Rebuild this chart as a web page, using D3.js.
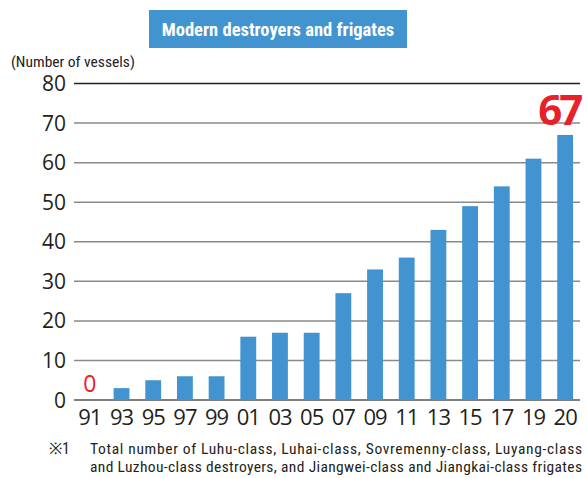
<!DOCTYPE html>
<html>
<head>
<meta charset="utf-8">
<script src="https://cdn.jsdelivr.net/npm/d3@7"></script>
<style>
  body { margin: 0; background: #fff; }
  svg { display: block; }
</style>
</head>
<body>
<div id="chart"></div>
<script>
// data
var years = ["91","93","95","97","99","01","03","05","07","09","11","13","15","17","19","20"];
var vessels = [0, 3, 5, 6, 6, 16, 17, 17, 27, 33, 36, 43, 49, 54, 61, 67];
var yTicks = [0, 10, 20, 30, 40, 50, 60, 70, 80];
var noteLines = [
  "Total number of Luhu-class, Luhai-class, Sovremenny-class, Luyang-class",
  "and Luzhou-class destroyers, and Jiangwei-class and Jiangkai-class frigates"
];

var width = 587, height = 478;
var blue = "#4194d0", red = "#e8202a";
var narrow = "'Liberation Sans Narrow', 'Roboto Condensed', 'Liberation Sans', sans-serif";
var light = "'Open Sans', 'Noto Sans', sans-serif";

var svg = d3.select("#chart")
  .append("svg")
    .attr("width", width)
    .attr("height", height);

// title box
svg.append("rect")
  .attr("x", 149).attr("y", 10)
  .attr("width", 258).attr("height", 38)
  .style("fill", blue);
svg.append("text")
  .attr("x", 278).attr("y", 36)
  .attr("text-anchor", "middle")
  .style("font-family", narrow)
  .style("font-weight", "bold")
  .style("font-size", "18.5px")
  .style("fill", "#fff")
  .text("Modern destroyers and frigates");

// unit label
svg.append("text")
  .attr("x", 11).attr("y", 67)
  .style("font-family", narrow)
  .style("font-size", "15.5px")
  .style("fill", "#222")
  .text("(Number of vessels)");

// scales
var x = d3.scaleBand()
  .domain(years)
  .range([74, 581])
  .paddingInner(0.5)
  .paddingOuter(0.25);

var y = d3.scaleLinear()
  .domain([0, 80])
  .range([400, 83.5]);

// grid lines
svg.append("g")
  .selectAll("line")
  .data(yTicks)
  .enter()
  .append("line")
    .attr("x1", 74).attr("x2", 580)
    .attr("y1", function(d){ return y(d); })
    .attr("y2", function(d){ return y(d); })
    .style("stroke", function(d){ return (d == 80) ? "#222" : (d == 0 ? "#555" : "#8a8a8a"); })
    .style("stroke-width", function(d){ return (d == 0 || d == 80) ? 1.4 : 1.5; });

// y tick labels
svg.append("g")
  .selectAll("text")
  .data(yTicks)
  .enter()
  .append("text")
    .attr("x", 66)
    .attr("y", function(d){ return y(d) + 7.5; })
    .attr("text-anchor", "end")
    .style("font-family", light)
    .style("font-size", "21px")
    .style("fill", "#231f20")
    .text(function(d){ return d; });

// bars
svg.append("g")
  .selectAll("rect")
  .data(vessels)
  .enter()
  .append("rect")
    .attr("x", function(d, i){ return x(years[i]); })
    .attr("y", function(d){ return y(d); })
    .attr("width", x.bandwidth())
    .attr("height", function(d){ return y(0) - y(d); })
    .style("fill", blue);

// x tick labels
svg.append("g")
  .selectAll("text")
  .data(years)
  .enter()
  .append("text")
    .attr("x", function(d){ return x(d) + x.bandwidth() / 2; })
    .attr("y", 425)
    .attr("text-anchor", "middle")
    .style("font-family", light)
    .style("font-size", "22px")
    .style("letter-spacing", "-1px")
    .style("fill", "#231f20")
    .text(function(d){ return d; });

// red value labels for first and last
var first = 0, last = vessels.length - 1;
svg.append("text")
  .attr("x", x(years[first]) + x.bandwidth() / 2)
  .attr("y", 392)
  .attr("text-anchor", "middle")
  .style("font-family", light)
  .style("font-size", "23px")
  .style("fill", red)
  .text(vessels[first]);
svg.append("text")
  .attr("x", x(years[last]) + x.bandwidth() / 2 - 6)
  .attr("y", 125)
  .attr("text-anchor", "middle")
  .style("font-family", light)
  .style("font-weight", "bold")
  .style("font-size", "42px")
  .style("letter-spacing", "-3px")
  .style("fill", red)
  .text(vessels[last]);

// footnote
svg.append("text")
  .attr("x", 49).attr("y", 454)
  .style("font-family", narrow)
  .style("font-size", "16px")
  .style("fill", "#231f20")
  .text("※1");
svg.append("g")
  .selectAll("text")
  .data(noteLines)
  .enter()
  .append("text")
    .attr("x", 90)
    .attr("y", function(d, i){ return 454 + i * 18; })
    .attr("textLength", 492)
    .attr("lengthAdjust", "spacing")
    .style("font-family", narrow)
    .style("font-size", "15.5px")
    .style("fill", "#231f20")
    .text(function(d){ return d; });
</script>
</body>
</html>
